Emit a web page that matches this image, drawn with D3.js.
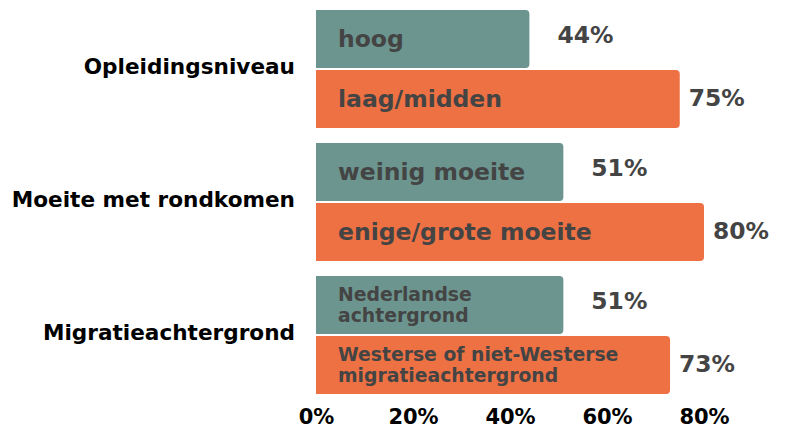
<!DOCTYPE html>
<html>
<head>
<meta charset="utf-8">
<script src="https://cdn.jsdelivr.net/npm/d3@7"></script>
<style>
  body { margin: 0; background: #fff; }
  svg { display: block; font-family: "DejaVu Sans", sans-serif; font-weight: 700; }
</style>
</head>
<body>
<svg id="chart" width="787" height="432"></svg>
<script>
// groups (top to bottom)
const groups = ["Opleidingsniveau", "Moeite met rondkomen", "Migratieachtergrond"];
// bar labels per group, first = teal, second = orange
const labelsTeal = ["hoog", "weinig moeite", "Nederlandse\nachtergrond"];
const labelsOrange = ["laag/midden", "enige/grote moeite", "Westerse of niet-Westerse\nmigratieachtergrond"];
const valuesTeal = [44, 51, 51];
const valuesOrange = [75, 80, 73];
const ticks = [0, 20, 40, 60, 80];

const colors = { teal: "#6c958f", orange: "#ed7143" };
const textGrey = "#444444";

const svg = d3.select("#chart");

const x = d3.scaleLinear().domain([0, 80]).range([316, 704]);
const y = d3.scaleBand().domain(groups).range([10, 394]).paddingInner(0.113).paddingOuter(0);
const yi = d3.scaleBand().domain(["teal", "orange"]).range([0, y.bandwidth()]).paddingInner(0.034);

const rows = [];
groups.forEach((g, i) => {
  rows.push({ group: g, series: "teal", label: labelsTeal[i], value: valuesTeal[i] });
  rows.push({ group: g, series: "orange", label: labelsOrange[i], value: valuesOrange[i] });
});

// bar shape with rounded right corners
function barPath(x0, y0, w, h, r) {
  return `M${x0},${y0}H${x0 + w - r}Q${x0 + w},${y0} ${x0 + w},${y0 + r}` +
    `V${y0 + h - r}Q${x0 + w},${y0 + h} ${x0 + w - r},${y0 + h}H${x0}Z`;
}

const bar = svg.append("g").selectAll("g")
  .data(rows)
  .enter()
  .append("g")
  .attr("transform", d => `translate(0,${y(d.group) + yi(d.series)})`);

bar.append("path")
  .attr("d", d => barPath(x(0), 0, x(d.value) - x(0), yi.bandwidth(), 4))
  .attr("fill", d => colors[d.series]);

// label inside bar
bar.each(function (d) {
  const lines = d.label.split("\n");
  const g = d3.select(this);
  const fs = lines.length > 1 ? 18.8 : 23.5;
  const t = g.append("text")
    .attr("fill", textGrey)
    .style("font-size", fs + "px");
  const h = yi.bandwidth();
  lines.forEach((ln, k) => {
    t.append("tspan")
      .attr("x", x(0) + 22)
      .attr("y", h / 2 + (k - (lines.length - 1) / 2) * 21)
      .attr("dy", ".35em")
      .text(ln);
  });
});

// value labels
bar.append("text")
  .attr("x", d => x(d.value) + (d.series === "teal" ? 28 : 9))
  .attr("y", d => yi.bandwidth() / 2 + (d.series === "teal" ? -4 : -1))
  .attr("dy", ".35em")
  .attr("fill", textGrey)
  .style("font-size", "23.4px")
  .text(d => d.value + "%");

// group labels
svg.append("g").selectAll("text")
  .data(groups)
  .enter()
  .append("text")
  .attr("x", 295)
  .attr("y", d => y(d) + y.bandwidth() / 2 - 3)
  .attr("dy", ".35em")
  .attr("text-anchor", "end")
  .attr("fill", "#000")
  .style("font-size", "21.6px")
  .text(d => d);

// x axis tick labels
const axis = d3.axisBottom(x).tickValues(ticks).tickFormat(d => d + "%").tickSize(0).tickPadding(0);
const ax = svg.append("g").attr("transform", "translate(0,409)").call(axis);
ax.select(".domain").remove();
ax.selectAll("text")
  .attr("fill", "#000")
  .attr("dy", "0.71em")
  .style("font-family", "'DejaVu Sans', sans-serif")
  .style("font-weight", 700)
  .style("font-size", "21px");
</script>
</body>
</html>
